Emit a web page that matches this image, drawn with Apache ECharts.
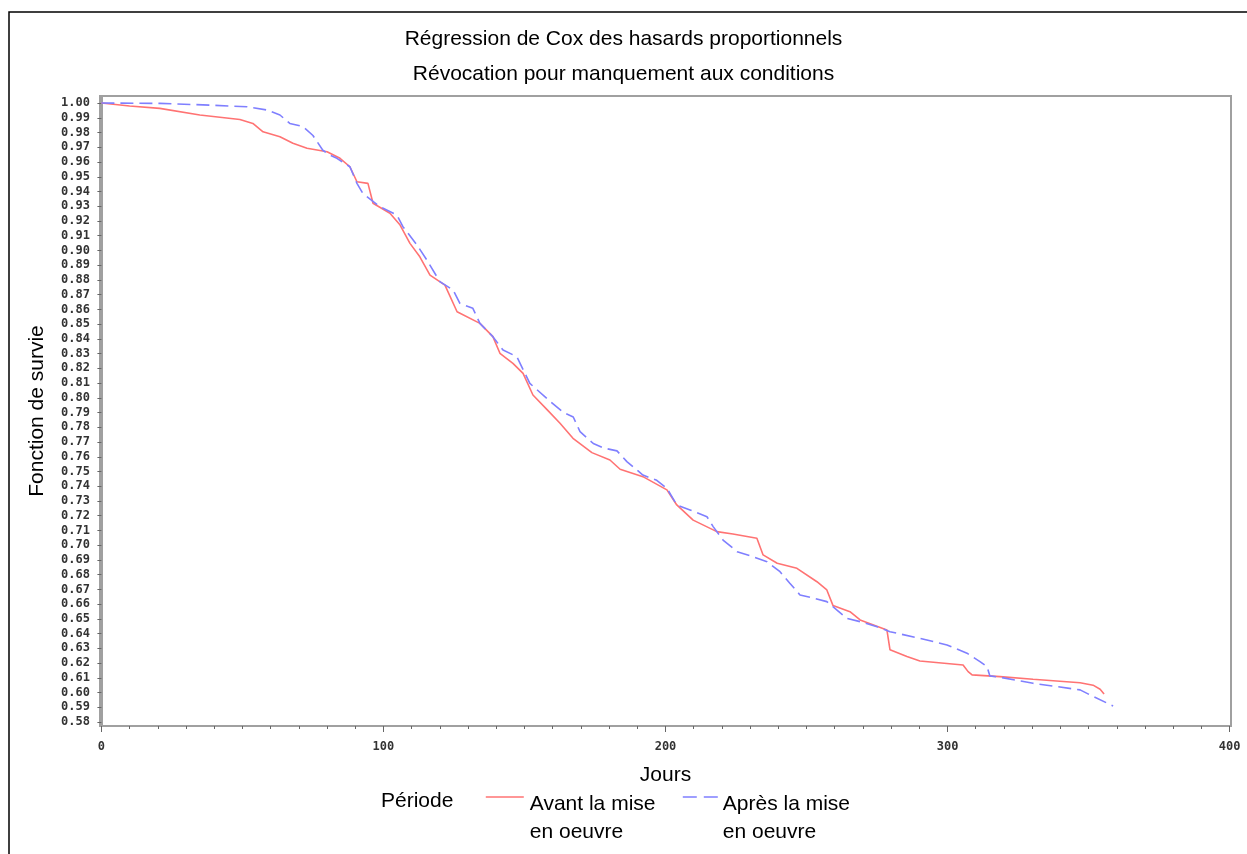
<!DOCTYPE html>
<html lang="fr">
<head>
<meta charset="UTF-8">
<title>Régression de Cox des hasards proportionnels</title>
<script src="https://cdn.jsdelivr.net/npm/echarts@6/dist/echarts.min.js"></script>
<style>
  html, body { margin: 0; padding: 0; background: #fff; }
  #main { width: 1247px; height: 854px; }
</style>
</head>
<body>
<div id="main"></div>
<script type="text/javascript">
// courbe "avant la mise en oeuvre"
var joursAvant = [0, 10, 20.7, 34.9, 49.1, 53.7, 57.3, 63.3, 67.9, 72.9, 80, 84.6, 88.1, 90.6, 94.5, 96.3,
  102.3, 105.9, 109.4, 112.9, 116.5, 121.8, 126.1, 134.2, 138.8, 141.3, 145.9, 149.5, 153, 158, 162.6,
  167.2, 173.9, 180.3, 183.9, 192, 200.5, 204, 209.8, 218.2, 223.9, 232.4, 234.6, 239.6, 246.6, 253.7,
  257.2, 259.4, 265.4, 269, 278.5, 279.6, 285.6, 290.2, 305.5, 307.3, 308.7, 318.6, 330.3, 347, 351.6,
  354.1, 355.5]
var survieAvant = [1.000, 0.998, 0.9964, 0.9919, 0.9889, 0.9862, 0.9805, 0.9771, 0.9727, 0.9693, 0.967,
  0.9625, 0.9568, 0.9466, 0.9455, 0.932, 0.9252, 0.9172, 0.9048, 0.8957, 0.8833, 0.8765, 0.8584, 0.8505,
  0.8415, 0.8302, 0.8234, 0.8166, 0.8019, 0.792, 0.7827, 0.7725, 0.7628, 0.7578, 0.7515, 0.7465, 0.7375,
  0.7273, 0.717, 0.7092, 0.7076, 0.7047, 0.6934, 0.6877, 0.6843, 0.6752, 0.6696, 0.659, 0.6549, 0.6493,
  0.6425, 0.629, 0.6244, 0.6214, 0.6187, 0.6142, 0.612, 0.6108, 0.609, 0.6067, 0.605, 0.6022, 0.599]

// courbe "après la mise en oeuvre"
var joursApres = [0, 20.7, 38.5, 51.6, 58.7, 63.3, 66.8, 71.5, 75, 78.5, 81, 83.5, 88.1, 90.6, 92.7, 98.8,
  104.8, 106.9, 111.9, 115.4, 120, 124.7, 127.1, 131.7, 134.2, 138.8, 142.4, 147.3, 151.9, 157.9, 163.8,
  167.3, 169.7, 174.4, 177.9, 182.8, 186.3, 192, 196.9, 200.5, 204, 208.7, 214.7, 216.9, 220.4, 225.4,
  231, 236, 240.6, 244, 247.7, 252.3, 257.2, 260.8, 264.3, 269, 275, 279.6, 290.2, 299.8, 306.9, 311.5,
  314, 315, 318.6, 330.3, 347, 350.5, 358.7]
var survieApres = [1.000, 0.9998, 0.9986, 0.9975, 0.9953, 0.9919, 0.9862, 0.984, 0.978, 0.968, 0.9647,
  0.9625, 0.9568, 0.9455, 0.9387, 0.9296, 0.924, 0.9161, 0.9037, 0.8935, 0.8788, 0.8731, 0.8641, 0.8607,
  0.8505, 0.8415, 0.8324, 0.8279, 0.8098, 0.7996, 0.790, 0.787, 0.777, 0.769, 0.766, 0.764, 0.7567,
  0.7476, 0.744, 0.7386, 0.7273, 0.7239, 0.7193, 0.7126, 0.7035, 0.6956, 0.6922, 0.6888, 0.682, 0.6744,
  0.6662, 0.6642, 0.6617, 0.656, 0.6504, 0.6481, 0.6447, 0.6413, 0.6368, 0.6323, 0.6267, 0.621, 0.6176,
  0.6113, 0.6104, 0.6063, 0.6018, 0.5984, 0.5909]

var graduationsX = [0, 100, 200, 300, 400]
var petitesGradX = []
for (var g = 0; g <= 400; g += 10) petitesGradX.push(g)
var graduationsY = []
for (var k = 58; k <= 100; k++) graduationsY.push(k / 100)

var nomAvant = 'Avant la mise\nen oeuvre'
var nomApres = 'Après la mise\nen oeuvre'

function paires (xs, ys) {
  return xs.map(function (x, i) { return [x, ys[i]] })
}

var chart = echarts.init(document.getElementById('main'), null, { renderer: 'canvas' })
var police = 'Liberation Sans, Arial, sans-serif'
var policeGrad = 'DejaVu Sans Mono, monospace'

// texte de légende décalé sous le trait
function texteLegende (name) {
  return '{e| }\n' + name.split('\n').map(function (l) { return '{t|' + l + '}' }).join('\n')
}
var richLegende = {
  e: { lineHeight: 42, fontSize: 10 },
  t: { fontFamily: police, fontSize: 21, color: '#000', lineHeight: 28 }
}

var option = {
  animation: false,
  backgroundColor: '#fff',
  title: {
    text: 'Régression de Cox des hasards proportionnels\nRévocation pour manquement aux conditions',
    left: 'center',
    top: 17,
    textStyle: { fontFamily: police, fontSize: 21, fontWeight: 'normal', color: '#000', lineHeight: 35 }
  },
  grid: {
    left: 100, right: 16, top: 96, bottom: 128,
    show: true, borderColor: '#a0a0a0', borderWidth: 2, backgroundColor: 'transparent'
  },
  legend: [
    {
      data: [nomAvant],
      left: 480, top: 759,
      itemWidth: 38, itemHeight: 14, itemGap: 0,
      formatter: texteLegende,
      itemStyle: { opacity: 0 },
      lineStyle: { color: '#ff7373', width: 1.6, type: 'solid' },
      textStyle: { rich: richLegende, padding: [0, 0, 0, 1] }
    },
    {
      data: [nomApres],
      left: 677, top: 759,
      itemWidth: 35, itemHeight: 14, itemGap: 0,
      formatter: texteLegende,
      itemStyle: { opacity: 0 },
      lineStyle: { color: '#7f7fff', width: 1.6, type: [14, 7] },
      textStyle: { rich: richLegende }
    }
  ],
  xAxis: [
    {
      type: 'value', min: -0.5, max: 400.5,
      name: 'Jours', nameLocation: 'middle', nameGap: 39,
      nameTextStyle: { fontFamily: police, fontSize: 21, color: '#000' },
      axisLine: { show: true, lineStyle: { color: '#a0a0a0', width: 2 } },
      axisTick: { show: true, length: 6, customValues: graduationsX, lineStyle: { color: '#666' } },
      axisLabel: {
        customValues: graduationsX, margin: 15,
        fontFamily: policeGrad, fontWeight: 'bold', fontSize: 12, color: '#333'
      },
      splitLine: { show: false }
    },
    {
      type: 'value', min: -0.5, max: 400.5, position: 'bottom',
      axisLine: { show: false },
      axisTick: { show: true, length: 3, customValues: petitesGradX, lineStyle: { color: '#666' } },
      axisLabel: { show: false },
      splitLine: { show: false }
    }
  ],
  yAxis: {
    type: 'value', min: 0.5773, max: 1.0048,
    name: 'Fonction de survie', nameLocation: 'middle', nameGap: 52, nameRotate: 90,
    nameTextStyle: { fontFamily: police, fontSize: 21, color: '#000' },
    axisLine: { show: true, lineStyle: { color: '#a0a0a0', width: 2 } },
    axisTick: { show: true, length: 4, customValues: graduationsY, lineStyle: { color: '#666' } },
    axisLabel: {
      customValues: graduationsY, margin: 10,
      fontFamily: policeGrad, fontWeight: 'bold', fontSize: 12, color: '#333',
      formatter: function (v) { return v.toFixed(2) }
    },
    splitLine: { show: false }
  },
  series: [
    {
      name: nomAvant, type: 'line', xAxisIndex: 0,
      data: paires(joursAvant, survieAvant),
      symbol: 'none', smooth: false,
      lineStyle: { color: '#ff7373', width: 1.6 },
      itemStyle: { color: '#ff7373' },
      z: 3
    },
    {
      name: nomApres, type: 'line', xAxisIndex: 0,
      data: paires(joursApres, survieApres),
      symbol: 'none', smooth: false,
      lineStyle: { color: '#7f7fff', width: 1.6, type: [13, 6] },
      itemStyle: { color: '#7f7fff' },
      z: 4
    }
  ],
  graphic: [
    {
      type: 'rect', silent: true,
      shape: { x: 9, y: 12, width: 1300, height: 900 },
      style: { fill: 'none', stroke: '#000', lineWidth: 1.5 }
    },
    {
      type: 'text', left: 381, top: 791, silent: true,
      style: { text: 'Période', font: '21px ' + police, fill: '#000' }
    }
  ]
}

option && chart.setOption(option)
</script>
</body>
</html>
